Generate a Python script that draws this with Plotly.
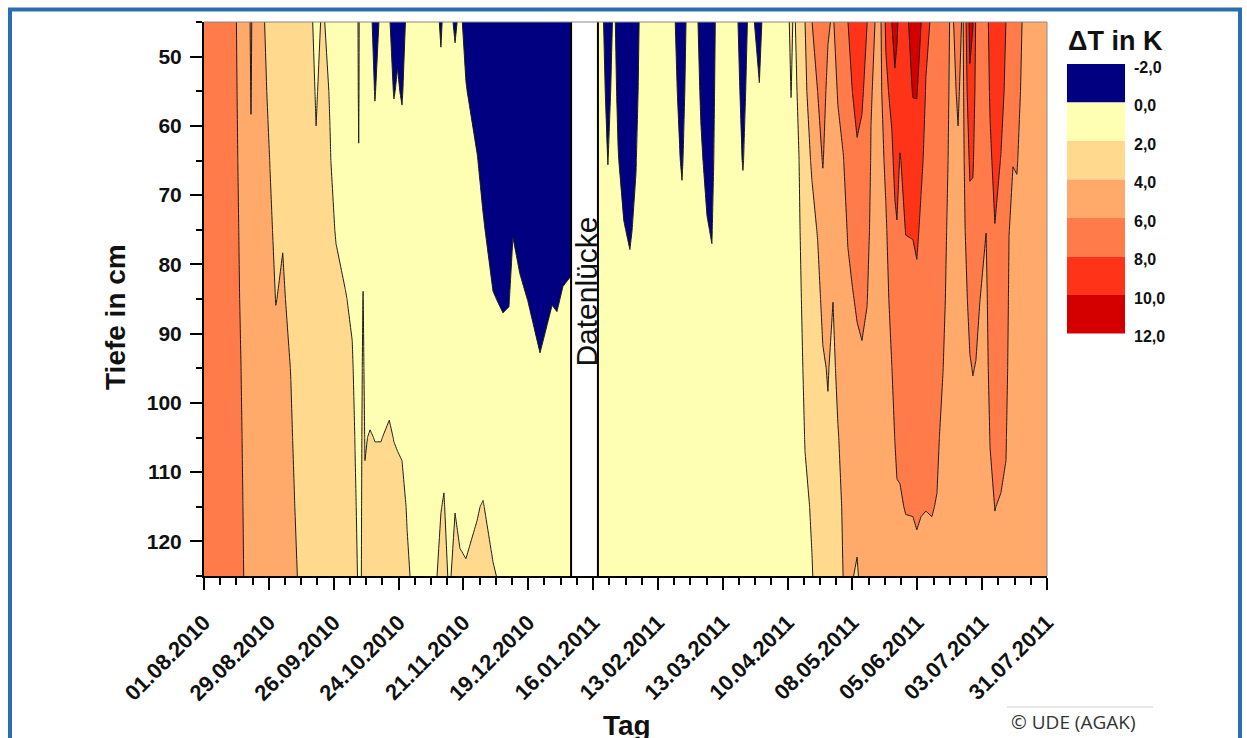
import pandas as pd
import plotly.graph_objects as go

# ---------------------------------------------------------------------------
# Soil temperature difference (Delta T in K) by depth and day
# ---------------------------------------------------------------------------
start_date = "2010-08-01"
depths_cm = [45, 55, 65, 75, 85, 95, 105, 115, 125]

# days since 01.08.2010, first measuring period (until the data gap)
days_before_gap = [
    0, 11, 15.5, 19, 20.3, 21.5, 25, 28.5, 31, 34, 37.5, 40.5, 44, 48.4, 51,
    54.4, 57, 61, 64, 65.2, 66.8, 67.8, 68.7, 69.5, 71.7, 73.8, 76.4, 80, 82,
    83.6, 85.5, 87.7, 90.2, 100.2, 102.3, 103.6, 105.8, 108.4, 110.5, 113.1,
    117.9, 120.5, 124.8, 129.1, 131.7, 133.4, 136.4, 139.9, 145.1, 150.3,
    152.4, 155, 158.5,
]
# one profile per day, values at depths_cm
dT_before_gap = [
    [7.0, 7.0, 7.0, 7.0, 7.0, 7.0, 7.0, 7.0, 7.0],
    [6.8, 6.8, 6.8, 6.8, 6.8, 6.8, 6.8, 6.8, 6.8],
    [5.6, 5.7, 5.8, 5.9, 5.98, 6.1, 6.2, 6.3, 6.4],
    [5.1, 5.15, 5.2, 5.3, 5.35, 5.4, 5.45, 5.5, 5.55],
    [6.4, 6.1, 5.8, 5.5, 5.4, 5.4, 5.45, 5.5, 5.55],
    [4.9, 5.0, 5.1, 5.2, 5.3, 5.35, 5.4, 5.45, 5.5],
    [4.2, 4.3, 4.5, 4.6, 4.8, 4.9, 5.0, 5.1, 5.2],
    [3.6, 3.8, 3.98, 4.15, 4.3, 4.5, 4.65, 4.8, 5.0],
    [3.3, 3.45, 3.6, 3.8, 3.98, 4.2, 4.4, 4.5, 4.7],
    [3.5, 3.65, 3.8, 3.95, 4.1, 4.3, 4.5, 4.6, 4.8],
    [3.2, 3.35, 3.5, 3.65, 3.8, 3.98, 4.1, 4.2, 4.3],
    [3.0, 3.1, 3.2, 3.3, 3.4, 3.5, 3.7, 3.85, 3.98],
    [2.6, 2.8, 2.9, 3.0, 3.1, 3.2, 3.3, 3.5, 3.7],
    [1.7, 1.9, 2.1, 2.3, 2.5, 2.7, 2.9, 3.1, 3.3],
    [2.1, 2.3, 2.4, 2.5, 2.6, 2.8, 3.0, 3.2, 3.4],
    [1.8, 1.95, 2.05, 2.2, 2.4, 2.6, 2.8, 3.0, 3.2],
    [1.3, 1.5, 1.7, 1.95, 2.2, 2.4, 2.6, 2.8, 3.0],
    [1.0, 1.2, 1.4, 1.7, 2.05, 2.3, 2.5, 2.7, 2.9],
    [0.8, 1.0, 1.2, 1.5, 1.85, 2.1, 2.3, 2.5, 2.7],
    [0.7, 0.9, 1.1, 1.35, 1.6, 1.8, 1.98, 2.1, 2.2],
    [2.3, 2.15, 1.95, 1.8, 1.7, 1.6, 1.7, 1.8, 1.9],
    [0.8, 1.0, 1.2, 1.4, 1.6, 1.7, 1.8, 1.85, 1.9],
    [0.8, 1.0, 1.2, 1.6, 2.05, 2.2, 2.3, 2.4, 2.5],
    [0.5, 0.7, 0.9, 1.2, 1.5, 1.75, 1.95, 2.1, 2.3],
    [0.3, 0.5, 0.7, 0.9, 1.2, 1.6, 2.05, 2.3, 2.5],
    [-0.4, -0.05, 0.3, 0.7, 1.1, 1.5, 1.98, 2.3, 2.6],
    [0.2, 0.4, 0.6, 0.85, 1.15, 1.55, 1.98, 2.3, 2.6],
    [0.1, 0.35, 0.6, 0.9, 1.3, 1.7, 2.1, 2.4, 2.6],
    [-0.5, -0.05, 0.4, 0.8, 1.2, 1.6, 1.98, 2.3, 2.6],
    [-0.2, 0.1, 0.5, 0.85, 1.2, 1.6, 1.95, 2.2, 2.4],
    [-0.6, -0.1, 0.4, 0.75, 1.1, 1.5, 1.9, 2.2, 2.4],
    [0.3, 0.5, 0.7, 0.9, 1.15, 1.4, 1.7, 1.95, 2.1],
    [0.4, 0.6, 0.8, 1.0, 1.2, 1.4, 1.6, 1.75, 1.9],
    [0.4, 0.6, 0.8, 1.0, 1.2, 1.4, 1.6, 1.8, 1.95],
    [-0.2, 0.35, 0.7, 1.0, 1.3, 1.6, 1.85, 1.98, 2.2],
    [0.3, 0.55, 0.8, 1.05, 1.3, 1.55, 1.8, 2.05, 2.3],
    [0.3, 0.5, 0.7, 0.9, 1.1, 1.3, 1.5, 1.7, 1.9],
    [-0.15, 0.35, 0.7, 1.0, 1.3, 1.55, 1.8, 1.98, 2.2],
    [0.2, 0.4, 0.6, 0.85, 1.1, 1.35, 1.6, 1.85, 2.1],
    [-0.3, 0.05, 0.4, 0.7, 1.0, 1.3, 1.6, 1.85, 2.05],
    [-0.8, -0.4, 0.05, 0.4, 0.8, 1.2, 1.6, 1.95, 2.2],
    [-1.0, -0.7, -0.3, 0.1, 0.5, 1.0, 1.5, 2.05, 2.4],
    [-1.2, -1.0, -0.7, -0.4, 0.05, 0.5, 1.1, 1.6, 2.1],
    [-1.3, -1.1, -0.8, -0.5, -0.1, 0.4, 0.9, 1.4, 1.8],
    [-1.3, -1.1, -0.8, -0.5, -0.05, 0.4, 0.9, 1.3, 1.7],
    [-0.9, -0.7, -0.4, -0.05, 0.4, 0.8, 1.2, 1.5, 1.8],
    [-1.4, -1.2, -0.9, -0.35, 0.2, 0.6, 1.0, 1.4, 1.7],
    [-1.5, -1.3, -1.0, -0.6, -0.02, 0.5, 0.9, 1.3, 1.6],
    [-1.6, -1.4, -1.2, -0.8, -0.35, 0.1, 0.6, 1.0, 1.3],
    [-1.5, -1.3, -1.0, -0.6, -0.05, 0.5, 0.9, 1.2, 1.5],
    [-1.5, -1.3, -1.0, -0.65, -0.1, 0.45, 0.85, 1.2, 1.5],
    [-1.3, -1.1, -0.8, -0.45, 0.1, 0.5, 0.9, 1.2, 1.4],
    [-1.2, -1.0, -0.7, -0.3, 0.15, 0.55, 0.9, 1.2, 1.4],
]

# second measuring period (after the data gap)
days_after_gap = [
    170.1, 171.9, 174.4, 177, 178.8, 181.3, 183.9, 186.5, 188.7, 202, 206.4,
    209, 212, 214.6, 217.2, 219.3, 221.5, 229.3, 232.7, 235.8, 239.8, 241.8,
    246.5, 250.9, 253.5, 254.7, 256.9, 259.5, 262.5, 265, 267.2, 269.4, 271.6,
    273.7, 276, 278, 280, 282, 284.1, 286.3, 288, 290.6, 292.3, 294.4, 297,
    298.3, 299.2, 300.5, 303, 306.1, 307.8, 309.6, 311.7, 314.3, 316.5, 319.1,
    320.8, 322.5, 325.6, 327.7, 330.7, 332, 333.3, 335, 337.7, 339.4, 341.5,
    344.1, 346.3, 347.6, 349.3, 351, 353.6, 364,
]
dT_after_gap = [
    [0.3, 0.4, 0.5, 0.6, 0.7, 0.8, 0.9, 1.0, 1.1],
    [0.2, 0.35, 0.5, 0.6, 0.7, 0.8, 0.9, 1.0, 1.1],
    [-0.6, -0.3, -0.02, 0.3, 0.5, 0.7, 0.8, 0.9, 1.0],
    [0.2, 0.35, 0.5, 0.6, 0.7, 0.8, 0.9, 1.0, 1.1],
    [-0.4, -0.2, 0.05, 0.3, 0.5, 0.7, 0.8, 0.9, 1.0],
    [-0.8, -0.6, -0.35, 0.05, 0.3, 0.5, 0.7, 0.8, 0.9],
    [-0.9, -0.7, -0.5, -0.12, 0.3, 0.5, 0.7, 0.8, 0.9],
    [-0.5, -0.3, -0.05, 0.2, 0.4, 0.6, 0.7, 0.8, 0.9],
    [0.3, 0.4, 0.5, 0.6, 0.7, 0.8, 0.9, 1.0, 1.1],
    [0.3, 0.4, 0.5, 0.6, 0.7, 0.8, 0.9, 1.0, 1.1],
    [-0.6, -0.35, -0.1, 0.25, 0.5, 0.7, 0.8, 0.9, 1.0],
    [0.3, 0.4, 0.5, 0.6, 0.7, 0.8, 0.9, 1.0, 1.1],
    [0.3, 0.4, 0.5, 0.6, 0.7, 0.8, 0.9, 1.0, 1.1],
    [-0.3, -0.1, 0.1, 0.3, 0.5, 0.7, 0.8, 0.9, 1.0],
    [-0.5, -0.35, -0.2, 0.05, 0.3, 0.5, 0.7, 0.8, 0.9],
    [-0.6, -0.45, -0.3, -0.05, 0.2, 0.4, 0.6, 0.75, 0.9],
    [0.3, 0.4, 0.5, 0.6, 0.7, 0.8, 0.9, 1.0, 1.1],
    [0.3, 0.4, 0.5, 0.6, 0.7, 0.8, 0.9, 1.0, 1.1],
    [-0.5, -0.25, -0.05, 0.3, 0.5, 0.7, 0.8, 0.9, 1.0],
    [0.3, 0.4, 0.5, 0.6, 0.7, 0.8, 0.9, 1.0, 1.1],
    [-0.35, 0.05, 0.3, 0.5, 0.6, 0.7, 0.8, 0.9, 1.0],
    [0.3, 0.5, 0.6, 0.7, 0.8, 0.9, 1.0, 1.05, 1.1],
    [0.9, 0.9, 0.9, 0.9, 0.9, 0.9, 0.9, 0.9, 0.9],
    [1.3, 1.2, 1.1, 1.0, 0.9, 0.85, 0.8, 0.75, 0.7],
    [2.3, 2.03, 1.7, 1.4, 1.2, 1.1, 1.0, 0.95, 0.9],
    [1.8, 1.6, 1.4, 1.3, 1.2, 1.1, 1.0, 0.95, 0.9],
    [2.5, 2.25, 1.98, 1.8, 1.6, 1.45, 1.3, 1.2, 1.1],
    [3.98, 3.6, 3.2, 2.9, 2.6, 2.3, 2.05, 1.8, 1.6],
    [5.98, 5.1, 4.2, 3.5, 3.0, 2.6, 2.3, 2.1, 1.95],
    [6.8, 6.02, 5.2, 4.1, 3.5, 3.1, 2.8, 2.5, 2.3],
    [7.3, 6.6, 6.1, 5.2, 4.4, 3.8, 3.4, 3.1, 2.9],
    [6.2, 5.6, 5.2, 4.8, 4.45, 4.1, 3.8, 3.5, 3.3],
    [5.8, 5.4, 5.0, 4.5, 4.02, 3.6, 3.4, 3.3, 3.2],
    [6.9, 6.1, 5.6, 5.2, 4.8, 4.4, 3.9, 3.5, 3.2],
    [7.5, 6.8, 5.9, 5.5, 5.1, 4.8, 4.5, 4.2, 4.02],
    [7.98, 7.4, 6.8, 6.1, 5.7, 5.3, 5.0, 4.7, 4.4],
    [8.6, 8.02, 7.2, 6.5, 5.9, 5.4, 4.9, 4.4, 4.05],
    [9.0, 8.4, 7.8, 7.0, 6.2, 5.6, 5.0, 4.4, 3.85],
    [8.8, 8.2, 7.6, 6.9, 6.3, 5.8, 5.3, 4.8, 4.4],
    [8.02, 7.5, 7.0, 6.5, 6.05, 5.6, 5.2, 4.8, 4.5],
    [6.4, 6.1, 5.9, 5.7, 5.5, 5.3, 5.1, 4.9, 4.7],
    [5.8, 5.6, 5.4, 5.2, 5.02, 4.9, 4.8, 4.7, 4.6],
    [5.95, 5.7, 5.5, 5.3, 5.2, 5.1, 5.02, 4.9, 4.8],
    [8.3, 7.6, 6.3, 5.8, 5.5, 5.3, 5.1, 4.9, 4.8],
    [10.05, 8.5, 7.6, 7.02, 6.5, 5.98, 5.6, 5.3, 5.02],
    [10.4, 9.8, 8.5, 7.6, 7.02, 6.5, 6.02, 5.6, 5.3],
    [10.2, 9.6, 8.6, 7.9, 7.2, 6.7, 6.15, 5.9, 5.6],
    [9.6, 8.8, 7.9, 7.4, 7.02, 6.6, 6.2, 5.9, 5.6],
    [9.5, 9.02, 8.5, 8.05, 7.4, 6.9, 6.4, 6.05, 5.6],
    [10.8, 10.1, 9.02, 8.1, 7.4, 6.9, 6.5, 6.05, 5.7],
    [11.0, 10.1, 9.2, 8.3, 7.6, 7.02, 6.6, 6.1, 5.8],
    [10.05, 9.2, 8.3, 7.7, 7.2, 6.8, 6.4, 6.05, 5.7],
    [8.4, 7.9, 7.6, 7.3, 7.02, 6.7, 6.35, 6.02, 5.7],
    [7.8, 7.6, 7.4, 7.2, 7.02, 6.7, 6.4, 6.05, 5.7],
    [7.6, 7.4, 7.2, 7.02, 6.8, 6.5, 6.2, 5.95, 5.7],
    [7.2, 7.02, 6.8, 6.6, 6.3, 6.02, 5.7, 5.5, 5.3],
    [6.6, 6.4, 6.2, 5.95, 5.8, 5.6, 5.4, 5.2, 5.02],
    [5.7, 5.6, 5.5, 5.4, 5.3, 5.2, 5.1, 5.02, 4.9],
    [6.5, 6.15, 5.85, 5.6, 5.4, 5.3, 5.2, 5.1, 5.02],
    [5.8, 5.6, 5.5, 5.4, 5.3, 5.2, 5.1, 5.05, 5.02],
    [10.6, 9.6, 8.3, 7.3, 6.4, 5.9, 5.5, 5.3, 5.1],
    [10.1, 9.02, 8.2, 7.4, 6.7, 6.05, 5.6, 5.4, 5.2],
    [7.8, 7.5, 7.2, 6.8, 6.4, 5.95, 5.6, 5.4, 5.2],
    [7.6, 7.3, 7.02, 6.5, 6.02, 5.6, 5.3, 5.1, 5.02],
    [7.2, 6.9, 6.5, 6.02, 5.6, 5.4, 5.2, 5.1, 5.02],
    [8.6, 8.2, 7.7, 7.3, 6.9, 6.5, 6.05, 5.7, 5.4],
    [9.4, 8.9, 8.5, 7.95, 7.4, 7.02, 6.6, 6.02, 5.7],
    [9.02, 8.5, 7.95, 7.6, 7.2, 6.8, 6.4, 5.9, 5.6],
    [7.98, 7.7, 7.4, 7.1, 6.8, 6.5, 6.1, 5.8, 5.5],
    [6.8, 6.6, 6.3, 6.02, 5.8, 5.6, 5.4, 5.3, 5.2],
    [6.4, 6.2, 6.02, 5.8, 5.6, 5.5, 5.4, 5.3, 5.2],
    [6.6, 6.3, 6.05, 5.8, 5.6, 5.5, 5.4, 5.3, 5.2],
    [5.9, 5.8, 5.7, 5.6, 5.5, 5.4, 5.3, 5.2, 5.1],
    [5.5, 5.4, 5.3, 5.2, 5.1, 5.02, 4.9, 4.8, 4.7],
]

gap_start_day, gap_end_day = 158.5, 170.1
gap_label = "Datenlücke"

levels = [-2, 0, 2, 4, 6, 8, 10, 12]
level_labels = ["-2,0", "0,0", "2,0", "4,0", "6,0", "8,0", "10,0", "12,0"]
band_colors = ["#000080", "#FFFFB3", "#FFD98D", "#FFA96B",
               "#FF7B4A", "#FF3318", "#D40000"]

tick_labels = ["01.08.2010", "29.08.2010", "26.09.2010", "24.10.2010",
               "21.11.2010", "19.12.2010", "16.01.2011", "13.02.2011",
               "13.03.2011", "10.04.2011", "08.05.2011", "05.06.2011",
               "03.07.2011", "31.07.2011"]
depth_ticks = [50, 60, 70, 80, 90, 100, 110, 120]

# ---------------------------------------------------------------------------
FONT = "Liberation Sans, Arial, sans-serif"
W, H = 1247, 738
ML, MR, MT, MB = 204, 200, 22, 162
PW, PH = W - ML - MR, H - MT - MB


def px(x):
    return (x - ML) / PW


def py(y):
    return (H - MB - y) / PH


t0 = pd.Timestamp(start_date)
tick_days = [(pd.to_datetime(t, format="%d.%m.%Y") - t0).days for t in tick_labels]

# contour fill colours: plotly evaluates the scale at each band's midpoint
size = levels[1] - levels[0]
lo = levels[0] - size / 2
hi = levels[-1] + size / 2
fill_scale = [[0.0, band_colors[0]]]
for i, c in enumerate(band_colors):
    mid = levels[i] + size / 2
    fill_scale.append([(mid - lo) / (hi - lo), c])
fill_scale.append([1.0, band_colors[-1]])


def period_trace(days, profiles):
    z = [list(row) for row in zip(*profiles)]
    return go.Contour(
        x=days, y=depths_cm, z=z,
        autocontour=False,
        contours=dict(start=levels[0], end=levels[-1], size=size,
                      coloring="fill", showlines=True),
        colorscale=fill_scale, showscale=False,
        line=dict(color="#1c1c1c", width=1, smoothing=0),
        hoverinfo="skip",
    )


fig = go.Figure()
fig.add_trace(period_trace(days_before_gap, dT_before_gap))
fig.add_trace(period_trace(days_after_gap, dT_after_gap))

shapes = []
# data gap
shapes.append(dict(type="rect", xref="x", yref="paper", x0=gap_start_day,
                   x1=gap_end_day, y0=0, y1=1, fillcolor="white",
                   line=dict(width=0), layer="above"))
for gx in (gap_start_day, gap_end_day):
    shapes.append(dict(type="line", xref="x", yref="paper", x0=gx, x1=gx,
                       y0=0, y1=1, line=dict(color="black", width=2),
                       layer="above"))
# thin frame on top and right of the plot area
shapes.append(dict(type="line", xref="paper", yref="paper", x0=0, x1=1,
                   y0=1, y1=1, line=dict(color="#8a8a8a", width=1), layer="above"))
shapes.append(dict(type="line", xref="paper", yref="paper", x0=1, x1=1,
                   y0=0, y1=1, line=dict(color="#8a8a8a", width=1), layer="above"))

# legend boxes
box_top, box_step = 64, 38.5
annotations = []
for i, c in enumerate(band_colors):
    shapes.append(dict(type="rect", xref="paper", yref="paper",
                       x0=px(1067), x1=px(1125),
                       y0=py(box_top + (i + 1) * box_step),
                       y1=py(box_top + i * box_step),
                       fillcolor=c, line=dict(width=0)))
for i, lab in enumerate(level_labels):
    annotations.append(dict(xref="paper", yref="paper", x=px(1132),
                            y=py(box_top + i * box_step + 3), text=f"<b>{lab}</b>",
                            showarrow=False, xanchor="left", yanchor="middle",
                            font=dict(family=FONT, size=16, color="#111")))
annotations.append(dict(xref="paper", yref="paper", x=px(1115), y=py(41),
                        text="<b>ΔT in K</b>", showarrow=False,
                        xanchor="center", yanchor="middle",
                        font=dict(family=FONT, size=27, color="#111")))

# outer blue frame
shapes.append(dict(type="rect", xref="paper", yref="paper",
                   x0=px(10), x1=px(1240), y0=py(770), y1=py(9.5),
                   line=dict(color="#2A6EAF", width=4), fillcolor="rgba(0,0,0,0)"))
# source line
shapes.append(dict(type="line", xref="paper", yref="paper",
                   x0=px(1007), x1=px(1153), y0=py(707), y1=py(707),
                   line=dict(color="#cfcfcf", width=1)))

annotations += [
    dict(xref="x", yref="y", x=(gap_start_day + gap_end_day) / 2, y=84,
         text=gap_label, textangle=-90, showarrow=False, xshift=2,
         xanchor="center", yanchor="middle",
         font=dict(family=FONT, size=30, color="#111")),
    dict(xref="paper", yref="paper", x=px(115), y=py(317), text="<b>Tiefe in cm</b>",
         textangle=-90, showarrow=False, xanchor="center", yanchor="middle",
         font=dict(family=FONT, size=28, color="#111")),
    dict(xref="paper", yref="paper", x=px(627), y=py(725), text="<b>Tag</b>",
         showarrow=False, xanchor="center", yanchor="middle",
         font=dict(family=FONT, size=28, color="#111")),
    dict(xref="paper", yref="paper", x=px(1009), y=py(722), text="© UDE (AGAK)",
         showarrow=False, xanchor="left", yanchor="middle",
         font=dict(family="Open Sans, sans-serif", size=19, color="#333")),
]

fig.update_layout(
    width=W, height=H,
    margin=dict(l=ML, r=MR, t=MT, b=MB, pad=0),
    paper_bgcolor="white", plot_bgcolor="white",
    showlegend=False,
    shapes=shapes, annotations=annotations,
    xaxis=dict(range=[tick_days[0], tick_days[-1]], tickmode="array",
               tickvals=tick_days, ticktext=tick_labels, tickangle=-45,
               tickfont=dict(family=FONT, size=22, color="#111", weight="bold"),
               ticks="outside", ticklen=12, tickwidth=2, tickcolor="black",
               ticklabelstandoff=11,
               minor=dict(tickmode="linear", tick0=0, dtick=7, ticks="outside",
                          ticklen=7, tickwidth=2, tickcolor="black"),
               showline=True, linecolor="black", linewidth=2,
               showgrid=False, zeroline=False),
    yaxis=dict(range=[125, 45], tickmode="array", tickvals=depth_ticks,
               tickfont=dict(family=FONT, size=21, color="#111", weight="bold"),
               ticks="outside", ticklen=12, tickwidth=2, tickcolor="black",
               ticklabelstandoff=4,
               minor=dict(tickmode="linear", tick0=45, dtick=5, ticks="outside",
                          ticklen=6, tickwidth=2, tickcolor="black"),
               showline=True, linecolor="black", linewidth=2,
               showgrid=False, zeroline=False),
)

fig.write_html("out.html")
